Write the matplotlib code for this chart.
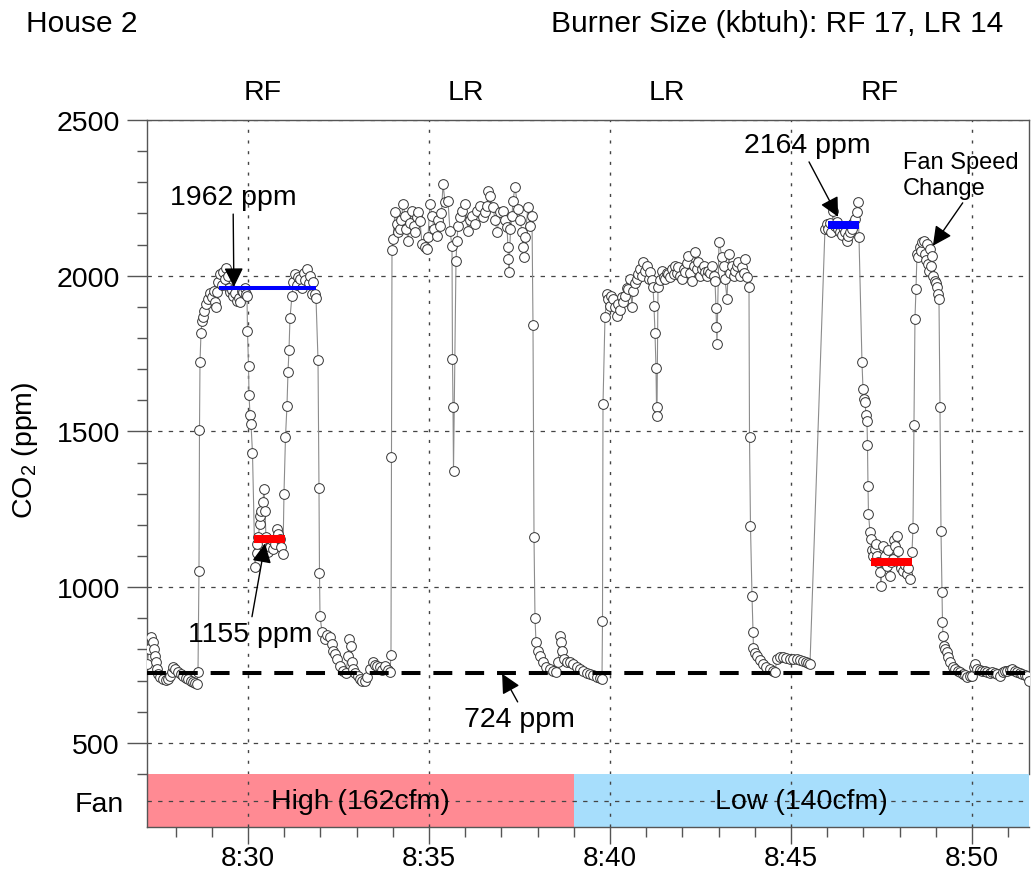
import matplotlib
matplotlib.use('Agg')
import matplotlib.pyplot as plt
import matplotlib.transforms as mtransforms
from matplotlib.ticker import MultipleLocator, FixedLocator

plt.rcParams['font.family'] = ['Liberation Sans', 'DejaVu Sans']
plt.rcParams['mathtext.fontset'] = 'custom'
plt.rcParams['mathtext.rm'] = 'Liberation Sans'
plt.rcParams['mathtext.it'] = 'Liberation Sans:italic'

# ---------------- data ----------------
# time in minutes after 8:00, CO2 in ppm
time_min = [
    27.210, 27.265, 27.320, 27.376, 27.403, 27.431, 27.459, 27.486, 27.514, 27.569,
    27.652, 27.735, 27.790, 27.845, 27.901, 27.928, 27.983, 28.066, 28.149, 28.204,
    28.287, 28.343, 28.425, 28.481, 28.536, 28.591, 28.619, 28.646, 28.660, 28.674,
    28.702, 28.729, 28.757, 28.785, 28.840, 28.895, 28.950, 29.006, 29.061, 29.088,
    29.116, 29.144, 29.171, 29.227, 29.282, 29.309, 29.365, 29.392, 29.448, 29.475,
    29.503, 29.558, 29.586, 29.641, 29.696, 29.751, 29.779, 29.834, 29.862, 29.917,
    29.945, 29.972, 29.986, 30.014, 30.028, 30.055, 30.083, 30.124, 30.193, 30.235,
    30.262, 30.290, 30.318, 30.345, 30.373, 30.414, 30.442, 30.470, 30.497, 30.525,
    30.552, 30.608, 30.663, 30.691, 30.746, 30.801, 30.829, 30.884, 30.912, 30.967,
    30.994, 31.036, 31.077, 31.105, 31.133, 31.160, 31.215, 31.257, 31.298, 31.354,
    31.395, 31.436, 31.492, 31.547, 31.588, 31.630, 31.685, 31.713, 31.768, 31.796,
    31.851, 31.878, 31.934, 31.961, 31.975, 31.989, 32.044, 32.127, 32.182, 32.265,
    32.320, 32.348, 32.403, 32.459, 32.541, 32.624, 32.707, 32.762, 32.804, 32.845,
    32.873, 32.901, 32.956, 33.039, 33.094, 33.149, 33.232, 33.287, 33.370, 33.453,
    33.508, 33.564, 33.646, 33.702, 33.785, 33.867, 33.923, 33.950, 33.964, 33.978,
    34.006, 34.061, 34.116, 34.157, 34.199, 34.240, 34.282, 34.337, 34.378, 34.420,
    34.475, 34.530, 34.572, 34.613, 34.655, 34.696, 34.751, 34.807, 34.890, 34.945,
    34.972, 35.028, 35.083, 35.138, 35.221, 35.262, 35.304, 35.345, 35.387, 35.442,
    35.525, 35.580, 35.635, 35.649, 35.663, 35.677, 35.746, 35.773, 35.801, 35.856,
    35.912, 35.994, 36.077, 36.133, 36.188, 36.271, 36.326, 36.409, 36.492, 36.547,
    36.602, 36.630, 36.685, 36.768, 36.823, 36.878, 36.961, 37.044, 37.099, 37.155,
    37.182, 37.196, 37.210, 37.251, 37.293, 37.320, 37.376, 37.459, 37.514, 37.569,
    37.597, 37.611, 37.652, 37.735, 37.790, 37.845, 37.873, 37.901, 37.928, 37.956,
    38.011, 38.066, 38.149, 38.232, 38.343, 38.425, 38.508, 38.564, 38.619, 38.646,
    38.674, 38.729, 38.812, 38.895, 38.978, 39.088, 39.171, 39.254, 39.365, 39.448,
    39.530, 39.641, 39.724, 39.779, 39.793, 39.807, 39.862, 39.917, 39.945, 40.000,
    40.041, 40.083, 40.138, 40.193, 40.221, 40.276, 40.331, 40.373, 40.414, 40.470,
    40.497, 40.552, 40.608, 40.635, 40.691, 40.746, 40.773, 40.829, 40.884, 40.912,
    40.967, 41.022, 41.064, 41.105, 41.160, 41.188, 41.215, 41.243, 41.271, 41.285,
    41.298, 41.326, 41.381, 41.436, 41.492, 41.519, 41.575, 41.602, 41.657, 41.713,
    41.768, 41.796, 41.851, 41.878, 41.934, 41.989, 42.044, 42.072, 42.127, 42.155,
    42.210, 42.265, 42.320, 42.348, 42.403, 42.431, 42.486, 42.541, 42.597, 42.624,
    42.680, 42.707, 42.762, 42.818, 42.873, 42.901, 42.928, 42.942, 42.956, 43.011,
    43.094, 43.149, 43.177, 43.232, 43.287, 43.315, 43.370, 43.425, 43.453, 43.508,
    43.536, 43.591, 43.646, 43.702, 43.729, 43.785, 43.840, 43.854, 43.881, 43.923,
    43.950, 43.964, 44.006, 44.061, 44.144, 44.227, 44.309, 44.420, 44.503, 44.558,
    44.613, 44.696, 44.779, 44.862, 44.972, 45.055, 45.166, 45.249, 45.331, 45.414,
    45.470, 45.525, 45.939, 45.994, 46.022, 46.077, 46.119, 46.160, 46.215, 46.271,
    46.312, 46.354, 46.409, 46.436, 46.492, 46.547, 46.575, 46.630, 46.685, 46.726,
    46.768, 46.823, 46.851, 46.878, 46.961, 46.989, 47.017, 47.044, 47.072, 47.099,
    47.113, 47.127, 47.141, 47.182, 47.210, 47.238, 47.265, 47.320, 47.348, 47.376,
    47.403, 47.459, 47.486, 47.541, 47.597, 47.652, 47.680, 47.735, 47.762, 47.818,
    47.845, 47.873, 47.928, 47.956, 48.011, 48.039, 48.094, 48.149, 48.204, 48.232,
    48.287, 48.343, 48.370, 48.398, 48.425, 48.453, 48.481, 48.508, 48.564, 48.591,
    48.619, 48.674, 48.702, 48.729, 48.757, 48.785, 48.812, 48.840, 48.867, 48.895,
    48.923, 48.978, 49.006, 49.033, 49.061, 49.088, 49.116, 49.144, 49.171, 49.185,
    49.199, 49.227, 49.254, 49.309, 49.337, 49.392, 49.475, 49.530, 49.613, 49.669,
    49.751, 49.807, 49.862, 49.945, 50.000, 50.055, 50.083, 50.138, 50.221, 50.276,
    50.359, 50.414, 50.497, 50.552, 50.635, 50.691, 50.773, 50.856, 50.912, 50.967,
    51.050, 51.105, 51.188, 51.243, 51.326, 51.381, 51.464, 51.519, 51.575,
]
co2_ppm = [
    754, 800, 840, 824, 802, 780, 760, 738, 722, 712,
    705, 703, 705, 715, 728, 744, 738, 728, 720, 715,
    709, 705, 700, 695, 692, 690, 728, 1053, 1505, 1723,
    1817, 1855, 1868, 1888, 1910, 1926, 1945, 1932, 1950, 1916,
    1900, 1948, 1980, 2006, 1970, 2012, 1990, 2025, 2000, 1960,
    1948, 1955, 1935, 1945, 1920, 1930, 1916, 1950, 1948, 1960,
    1942, 1935, 1823, 1711, 1618, 1553, 1524, 1431, 1065, 1110,
    1140, 1161, 1203, 1229, 1245, 1274, 1316, 1245, 1160, 1125,
    1113, 1130, 1150, 1123, 1140, 1187, 1170, 1155, 1130, 1107,
    1300, 1483, 1583, 1691, 1762, 1865, 1935, 1980, 2006, 1970,
    1995, 1990, 1960, 2010, 1985, 2022, 1975, 2000, 1942, 1980,
    1942, 1930, 1730, 1319, 1046, 908, 856, 834, 845, 840,
    818, 796, 785, 770, 747, 731, 725, 780, 834, 812,
    760, 738, 725, 715, 705, 699, 699, 712, 738, 760,
    750, 747, 744, 735, 747, 735, 728, 783, 1418, 2083,
    2118, 2205, 2167, 2140, 2151, 2180, 2231, 2193, 2150, 2112,
    2170, 2208, 2160, 2141, 2190, 2205, 2176, 2102, 2093, 2086,
    2125, 2231, 2193, 2150, 2128, 2180, 2160, 2200, 2295, 2237,
    2240, 2144, 2096, 1733, 1579, 1373, 2048, 2112, 2160, 2190,
    2208, 2231, 2144, 2180, 2193, 2167, 2208, 2224, 2189, 2205,
    2224, 2272, 2256, 2221, 2180, 2141, 2205, 2208, 2180, 2157,
    2093, 2055, 2013, 2150, 2193, 2240, 2285, 2215, 2180, 2141,
    2093, 2061, 2125, 2221, 2160, 2193, 1842, 1161, 901, 824,
    796, 780, 760, 745, 738, 730, 728, 760, 843, 824,
    796, 770, 760, 760, 752, 744, 738, 731, 725, 722,
    718, 712, 708, 705, 892, 1589, 1868, 1942, 1926, 1903,
    1935, 1926, 1900, 1871, 1910, 1890, 1932, 1915, 1935, 1960,
    1958, 1990, 1900, 1951, 1975, 1990, 2006, 2022, 2000, 2045,
    2015, 2032, 1990, 2013, 1985, 1964, 1903, 1817, 1704, 1579,
    1550, 1964, 1985, 2016, 1995, 1990, 2010, 2006, 1995, 2022,
    2005, 2032, 2010, 2029, 2000, 1990, 2020, 2013, 2040, 2064,
    2010, 1984, 2030, 2077, 2020, 2045, 2000, 2022, 2030, 2013,
    2000, 2016, 2010, 2032, 2000, 1984, 1897, 1836, 1781, 2109,
    2061, 2030, 1990, 1926, 2070, 2010, 2032, 2000, 2016, 2030,
    2045, 2000, 2029, 2010, 2055, 1996, 1964, 1483, 1197, 972,
    856, 805, 790, 780, 765, 754, 745, 738, 732, 728,
    770, 775, 776, 772, 770, 768, 770, 766, 764, 760,
    758, 754, 2151, 2167, 2151, 2170, 2140, 2208, 2160, 2173,
    2150, 2141, 2130, 2157, 2140, 2112, 2128, 2140, 2151, 2170,
    2183, 2205, 2237, 2125, 1723, 1637, 1605, 1595, 1553, 1534,
    1457, 1325, 1235, 1178, 1155, 1120, 1100, 1123, 1140, 1101,
    1080, 1049, 1004, 1133, 1100, 1069, 1120, 1036, 1080, 1091,
    1150, 1133, 1165, 1117, 1075, 1060, 1053, 1070, 1043, 1060,
    1027, 1113, 1190, 1521, 1862, 1958, 2070, 2060, 2093, 2080,
    2109, 2112, 2070, 2050, 2102, 2038, 2016, 2086, 2030, 2064,
    2000, 1984, 1975, 1964, 1942, 1926, 1579, 1181, 985, 889,
    843, 812, 800, 792, 776, 760, 744, 738, 731, 727,
    722, 718, 712, 715, 715, 745, 754, 738, 733, 731,
    730, 728, 725, 728, 724, 722, 715, 728, 730, 731,
    735, 738, 730, 728, 725, 722, 718, 715, 699,
]

baseline_ppm = 724

# averaged periods: start (min), end (min), level (ppm)
avg_start = [29.20, 30.17, 46.02, 47.21]
avg_end = [31.88, 31.02, 46.88, 48.34]
avg_level = [1962, 1155, 2164, 1082]
avg_color = ['#0000ff', '#ff0000', '#0000ff', '#ff0000']

burner_labels = ['RF', 'LR', 'LR', 'RF']
burner_label_time = [30.41, 36.02, 41.58, 47.46]

fan_labels = ['High (162cfm)', 'Low (140cfm)']
fan_start = [27.21, 39.00]
fan_end = [39.00, 51.575]
fan_colors = ['#ff8a93', '#a7defc']

xtick_pos = [30, 35, 40, 45, 50]
xtick_labels = ['8:30', '8:35', '8:40', '8:45', '8:50']
ytick_pos = [500, 1000, 1500, 2000, 2500]

# ---------------- figure ----------------
FS = 20.5
fig = plt.figure(figsize=(10.31, 8.78), dpi=100)
ax = fig.add_axes([0.14258, 0.1173, 0.85548, 0.7449])
axf = fig.add_axes([0.14258, 0.0569, 0.85548, 0.0604])

spine_col = '#555555'
grid_col = '#444444'

# main axes
ax.set_xlim(27.21, 51.575)
ax.set_ylim(400, 2500)
ax.set_yticks(ytick_pos)
ax.set_yticklabels([str(v) for v in ytick_pos])
ax.yaxis.set_minor_locator(MultipleLocator(100))
ax.set_xticks(xtick_pos)
ax.tick_params(axis='x', which='both', bottom=False, labelbottom=False)
ax.tick_params(axis='y', which='major', direction='out', length=14.5, width=1,
               color=spine_col, labelsize=FS, pad=5)
ax.tick_params(axis='y', which='minor', direction='out', length=7.5, width=1,
               color=spine_col)
ax.yaxis.grid(True, which='major', color=grid_col, linestyle=(0, (3.5, 5)), lw=0.9)
ax.xaxis.grid(True, which='major', color=grid_col, linestyle=(0, (2.2, 5.5)), lw=1.0)
ax.set_axisbelow(True)
for s in ['left', 'top', 'right']:
    ax.spines[s].set_color(spine_col)
    ax.spines[s].set_linewidth(1.0)
ax.spines['bottom'].set_visible(False)

ax.plot(time_min, co2_ppm, color='#8c8c8c', lw=0.8, marker='o', ms=7.0,
        mfc='white', mec='#333333', mew=0.7, zorder=3)

ax.axhline(baseline_ppm, color='black', lw=2.9, dashes=(4.7, 3.2), zorder=5)

avg_lw = [2.9, 5.8, 5.8, 5.8]
for s0, s1, lv, c, lw in zip(avg_start, avg_end, avg_level, avg_color, avg_lw):
    ax.plot([s0, s1], [lv, lv], color=c, lw=lw, solid_capstyle='butt', zorder=6)

arrow_kw = dict(arrowstyle='-|>,head_length=0.9,head_width=0.45', color='black',
                lw=1.0, mutation_scale=13, shrinkA=1, shrinkB=0)
ax.annotate('1962 ppm', xy=(29.61, 1964), xytext=(29.59, 2253), ha='center', va='center',
            fontsize=FS, arrowprops=dict(relpos=(0.5, 0.0), **arrow_kw), zorder=8)
ax.annotate('1155 ppm', xy=(30.47, 1140), xytext=(30.055, 850), ha='center', va='center',
            fontsize=FS, arrowprops=dict(relpos=(0.51, 1.0), **arrow_kw), zorder=8)
ax.annotate('724 ppm', xy=(37.02, 722), xytext=(37.51, 577), ha='center', va='center',
            fontsize=FS, arrowprops=dict(relpos=(0.5, 1.0), **arrow_kw), zorder=8)
ax.annotate('2164 ppm', xy=(46.30, 2189), xytext=(45.44, 2420), ha='center', va='center',
            fontsize=FS, arrowprops=dict(relpos=(0.5, 0.0), **arrow_kw), zorder=8)
ax.annotate('Fan Speed\nChange', xy=(48.92, 2096), xytext=(48.094, 2324), ha='left',
            va='center', fontsize=17, linespacing=1.25,
            arrowprops=dict(relpos=(0.54, 0.0), **arrow_kw), zorder=8)

# burner labels above plot
trans = mtransforms.blended_transform_factory(ax.transData, fig.transFigure)
for lab, t in zip(burner_labels, burner_label_time):
    ax.text(t, 0.894, lab, transform=trans, ha='center', va='center', fontsize=FS)

# fan axes
axf.set_xlim(27.21, 51.575)
axf.set_ylim(0, 1)
for lab, s0, s1, c in zip(fan_labels, fan_start, fan_end, fan_colors):
    axf.barh(0.5, s1 - s0, left=s0, height=1.0, color=c, zorder=1)
    axf.text((s0 + s1) / 2, 0.5, lab, ha='center', va='center', fontsize=FS, zorder=4)
axf.set_yticks([0.5])
axf.set_yticklabels(['Fan'])
axf.tick_params(axis='y', length=0, labelsize=FS, pad=16.5)
axf.xaxis.set_major_locator(FixedLocator(xtick_pos))
axf.set_xticklabels(xtick_labels)
axf.xaxis.set_minor_locator(MultipleLocator(1))
axf.tick_params(axis='x', which='major', direction='out', length=12.5, width=1,
                color=spine_col, labelsize=20, pad=0.5)
axf.tick_params(axis='x', which='minor', direction='out', length=7.5, width=1,
                color=spine_col)
axf.yaxis.grid(True, color=grid_col, linestyle=(0, (3.5, 5)), lw=0.9)
axf.xaxis.grid(True, which='major', color=grid_col, linestyle=(0, (2.2, 5.5)), lw=1.0)
axf.set_axisbelow(False)
for s in ['left', 'bottom']:
    axf.spines[s].set_color(spine_col)
    axf.spines[s].set_linewidth(1.0)
for s in ['top', 'right']:
    axf.spines[s].set_visible(False)

# titles and labels
TFS = 21.5
fig.text(0.0252, 0.9727, 'House 2', ha='left', va='center', fontsize=TFS)
fig.text(0.9729, 0.9727, 'Burner Size (kbtuh): RF 17, LR 14', ha='right', va='center',
         fontsize=TFS)
fig.text(0.0243, 0.4875, r'CO$_2$ (ppm)', rotation=90, ha='center', va='center',
         fontsize=FS)

fig.savefig('out.png', dpi=100)
